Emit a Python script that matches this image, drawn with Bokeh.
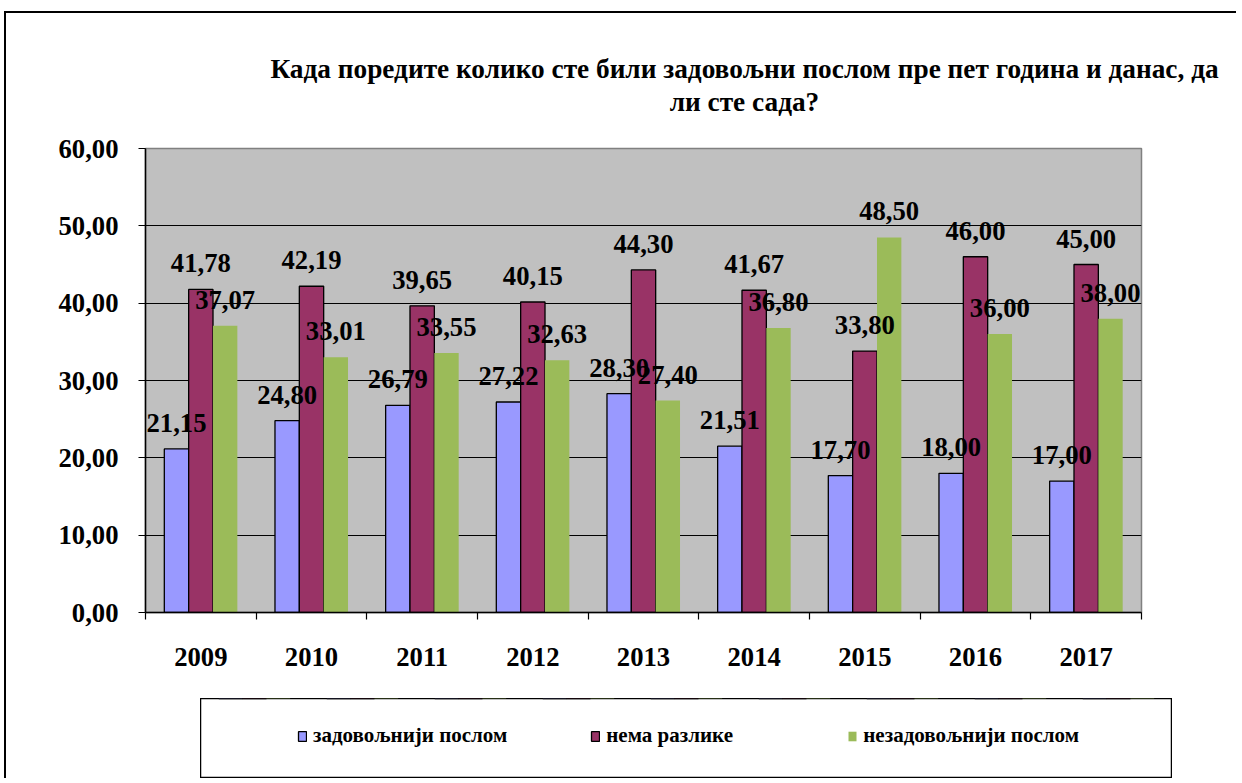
from bokeh.plotting import figure
from bokeh.layouts import column
from bokeh.models import Range1d, FixedTicker, Label, Legend, LegendItem
from bokeh.core.properties import value
from bokeh.embed import file_html
from bokeh.resources import INLINE

# ---- data ----
years = ["2009", "2010", "2011", "2012", "2013", "2014", "2015", "2016", "2017"]
satisfied = [21.15, 24.80, 26.79, 27.22, 28.30, 21.51, 17.70, 18.00, 17.00]
no_difference = [41.78, 42.19, 39.65, 40.15, 44.30, 41.67, 33.80, 46.00, 45.00]
dissatisfied = [37.07, 33.01, 33.55, 32.63, 27.40, 36.80, 48.50, 36.00, 38.00]
series_names = ["задовољнији послом", "нема разлике", "незадовољнији послом"]
series_colors = ["#9999FF", "#993366", "#9BBB59"]
y_ticks = [0, 10, 20, 30, 40, 50, 60]
y_tick_labels = ["0,00", "10,00", "20,00", "30,00", "40,00", "50,00", "60,00"]
title_lines = ["Када поредите колико сте били задовољни послом пре пет година и данас, да",
               "ли сте сада?"]

FONT = "Liberation Serif"
W = 1230
N = len(years)
all_series = [satisfied, no_difference, dissatisfied]
centers = [2 * i + 1 for i in range(N)]
bounds = [2 * i for i in range(N + 1)]
XMAX = 2 * N
BW = 0.44

# ---- title panel ----
TH = 112
tp = figure(width=W, height=TH, x_range=Range1d(0, W), y_range=Range1d(TH, 0),
            output_backend="svg", toolbar_location=None, frame_align=False,
            x_axis_location=None, y_axis_location=None, min_border=0)
tp.outline_line_color = None
tp.grid.visible = False
for line, py in zip(title_lines, [55, 88]):
    tp.add_layout(Label(x=738, y=py, text=line, text_align="center",
                        text_baseline="alphabetic", text_font=FONT, text_font_style="bold",
                        text_font_size="27.3px", text_color="black"))

# ---- main chart ----
FL, FR, FT, FB = 139, 95, 135 - TH, 81
H = FT + 464 + FB
p = figure(width=W, height=H, x_range=Range1d(0, XMAX), y_range=Range1d(0, 60),
           output_backend="svg", toolbar_location=None, frame_align=False,
           min_border_left=FL, min_border_right=FR, min_border_top=FT, min_border_bottom=FB)
p.background_fill_color = "#C0C0C0"
p.border_fill_color = "white"
p.outline_line_color = "#808080"
p.outline_line_width = 1.5

p.xgrid.visible = False
p.ygrid.ticker = FixedTicker(ticks=y_ticks)
p.ygrid.grid_line_color = "black"
p.ygrid.grid_line_width = 1.2

p.yaxis.ticker = FixedTicker(ticks=y_ticks)
p.yaxis.major_label_overrides = dict(zip(y_ticks, y_tick_labels))
p.yaxis.major_tick_in = 0
p.yaxis.major_tick_out = 7
p.yaxis.minor_tick_line_color = None
p.yaxis.axis_line_color = "black"
p.yaxis.axis_line_width = 1.5
p.yaxis.major_tick_line_width = 1.2
p.yaxis.major_label_standoff = 20
p.yaxis.major_label_text_font = FONT
p.yaxis.major_label_text_font_style = "bold"
p.yaxis.major_label_text_font_size = "26.67px"
p.yaxis.major_label_text_color = "black"

p.xaxis.ticker = FixedTicker(ticks=centers, minor_ticks=bounds)
p.xaxis.major_label_overrides = dict(zip(centers, years))
p.xaxis.major_tick_in = 0
p.xaxis.major_tick_out = 0
p.xaxis.minor_tick_in = 0
p.xaxis.minor_tick_out = 7
p.xaxis.minor_tick_line_color = "black"
p.xaxis.minor_tick_line_width = 1.2
p.xaxis.axis_line_color = "black"
p.xaxis.axis_line_width = 1.5
p.xaxis.major_label_standoff = 28
p.xaxis.major_label_text_font = FONT
p.xaxis.major_label_text_font_style = "bold"
p.xaxis.major_label_text_font_size = "26.67px"
p.xaxis.major_label_text_color = "black"

for k, vals in enumerate(all_series):
    xs = [c + (k - 1) * BW for c in centers]
    p.vbar(x=xs, top=vals, width=BW, bottom=0, fill_color=series_colors[k],
           line_color="black" if k < 2 else None, line_width=1.3)

for k, vals in enumerate(all_series):
    xs = [c + (k - 1) * BW for c in centers]
    labels = [f"{v:.2f}".replace(".", ",") for v in vals]
    p.text(x=xs, y=vals, text=labels, text_align="center", text_baseline="alphabetic",
           y_offset=-26, text_font=value(FONT), text_font_style="bold",
           text_font_size="26.67px", text_color="black")

# ---- legend panel (its frame is the legend box; the series glyphs sit outside its view) ----
LW, LH = 972, 80
lp = figure(width=LW, height=LH, x_range=Range1d(0, XMAX), y_range=Range1d(-2, -1),
            output_backend="svg", toolbar_location=None, frame_align=False,
            x_axis_location=None, y_axis_location=None, min_border=0,
            margin=(5, 0, 0, 194))
lp.grid.visible = False
lp.outline_line_color = "black"
lp.outline_line_width = 1.5
proxies = []
for k, vals in enumerate(all_series):
    xs = [c + (k - 1) * BW for c in centers]
    proxies.append(lp.vbar(x=xs, top=vals, width=BW, bottom=0, fill_color=series_colors[k],
                           line_color="black" if k < 2 else None, line_width=1.3))
legend = Legend(items=[LegendItem(label=n, renderers=[r], index=0)
                       for n, r in zip(series_names, proxies)],
                orientation="horizontal", location=(97, 30), border_line_alpha=0,
                background_fill_alpha=0, padding=0, margin=0, spacing=83,
                glyph_width=10, glyph_height=12, label_standoff=6, label_width=158,
                label_text_font=FONT, label_text_font_style="bold",
                label_text_font_size="21px", label_text_color="black")
lp.add_layout(legend, "center")

layout = column(tp, p, lp, margin=(11, 0, 0, 4),
                styles={"border-left": "2px solid black", "border-top": "2px solid black"})

open("out.html", "w").write(file_html(layout, INLINE))
